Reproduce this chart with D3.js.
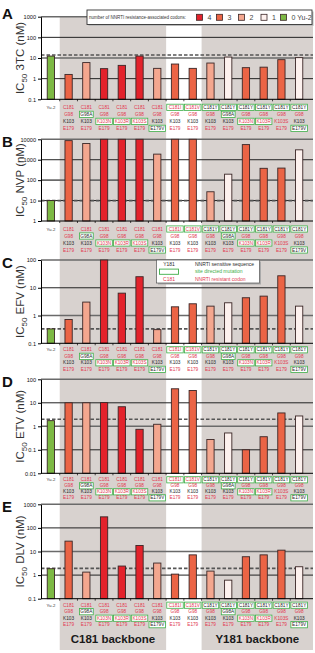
<!DOCTYPE html>
<html><head><meta charset="utf-8">
<script src="https://cdn.jsdelivr.net/npm/d3@7/dist/d3.min.js"></script>
<style>
body{margin:0;background:#fff;}
svg{display:block;font-family:"Liberation Sans",Arial,sans-serif;}
</style>
</head><body>
<svg id="chart" width="315" height="653"></svg>
<script>
// ---------------- DATA ----------------
const codon181 = ["Yu-2","C181","C181","C181","C181","C181","C181","C181I","C181V","C181Y","C181Y","C181Y","C181Y","C181Y","C181Y"];
const codon98  = ["","G98","G98A","G98","G98","G98","G98","G98","G98","G98","G98A","G98","G98","G98","G98"];
const codon103 = ["","K103","K103","K103N","K103R","K103S","K103","K103","K103","K103","K103","K103N","K103R","K103S","K103"];
const codon179 = ["","E179","E179","E179","E179","E179","E179V","E179","E179","E179","E179","E179","E179","E179","E179V"];
const siteDirected181 = [0,0,0,0,0,0,0,1,1,1,1,1,1,1,1];
const siteDirected98  = [0,0,1,0,0,0,0,0,0,0,1,0,0,0,0];
const siteDirected103 = [0,0,0,1,1,1,0,0,0,0,0,1,1,0,0];
const siteDirected179 = [0,0,0,0,0,0,1,0,0,0,0,0,0,0,1];
const resistantCodons = ["C181","C181I","C181V","G98","K103N","K103R","K103S","E179"];
const resistanceCount = [0,3,2,4,4,4,2,3,3,2,1,3,3,3,1];
const legendCounts = [4,3,2,1,0];
const legendCountLabels = ["4","3","2","1","0 Yu-2"];
const legendTitle = "number of NNRTI resistance-associated codons:";

const drugs = ["3TC","NVP","EFV","ETV","DLV"];
const panelLetters = ["A","B","C","D","E"];
const ic50_3TC = [12.4,1.6,6.0,3.05,4.4,12.4,3.15,5.1,3.15,5.7,11.1,3.4,3.6,8.3,10.4];
const ic50_NVP = [10,8600,6200,10000,10000,10000,1880,10000,10000,27,196,5500,380,390,3050];
const ic50_EFV = [0.33,0.72,3.05,100,6.4,25,0.31,2.06,2.65,2.18,2.88,4.37,5.0,27,2.18];
const ic50_ETV = [1.74,10,10,10.2,6.8,0.745,1.22,39.5,33.5,0.275,0.52,0.1,0.36,3.7,2.75];
const ic50_DLV = [1.86,27.5,1.34,294,2.42,18,3.24,1.1,7.2,1.48,0.61,6.0,7.2,11.4,2.26];
const yu2Reference = [14,10,0.33,2.0,1.92];
const tickLabels3TC = ["0.1","1","10","100","1000"];
const tickLabelsNVP = ["1","10","100","1000","10000"];
const tickLabelsEFV = ["0.1","1","10","100"];
const tickLabelsETV = ["0.01","0.1","1","10","100"];
const tickLabelsDLV = ["0.1","1","10","100","1000"];
const backboneLabels = ["C181 backbone","Y181 backbone"];
const keyCodons = ["Y181","","C181"];
const keyTexts = ["NNRTI sensitive sequence","site directed mutation","NNRTI resistant codon"];

// ---------------- STYLE / LAYOUT ----------------
const countColors = {4:"#e3222b",3:"#eb6445",2:"#f4a78f",1:"#fdf1ee",0:"#7db944"};
const resColor = "#e2394f", sensColor = "#2a2a2a", boxColor = "#3fae49", greyBg = "#d8d2cf";
const plotL = 41, plotR = 313;
const panelTop = [16.7,139.3,260,379.3,504.3];
const panelBottom = [99.3,221,343.3,473.3,598.7];
const labelFirst = [8,8,6.5,6.5,6.5];
const labelStep = [7,7,6.5,6,6.5];

const panelValues = [ic50_3TC, ic50_NVP, ic50_EFV, ic50_ETV, ic50_DLV];
const panelTicks = [tickLabels3TC, tickLabelsNVP, tickLabelsEFV, tickLabelsETV, tickLabelsDLV];

const svg = d3.select("#chart");
const idx = d3.range(codon181.length);
const xb = d3.scaleBand().domain(idx).range([42,308]).padding(0);
const x = d3.scaleBand().domain(idx).range([42,308]).paddingInner(0.59).paddingOuter(0.295);

// grey backbone regions
const regions = [[xb(1), xb(7)], [xb(9), plotR]];
svg.append("g").selectAll("rect").data(regions).join("rect")
  .attr("x", d => d[0]).attr("width", d => d[1]-d[0])
  .attr("y", panelTop[0]).attr("height", 650 - panelTop[0])
  .attr("fill", greyBg);

const rows = [codon181, codon98, codon103, codon179];
const boxes = [siteDirected181, siteDirected98, siteDirected103, siteDirected179];

panelValues.forEach((vals, p) => {
  const ticks = panelTicks[p].map(Number);
  const y = d3.scaleLog().domain([ticks[0], ticks[ticks.length-1]]).range([panelBottom[p], panelTop[p]]);
  const g = svg.append("g");
  // grid
  g.selectAll("line.grid").data(ticks.slice(1)).join("line")
    .attr("x1", plotL).attr("x2", plotR)
    .attr("y1", d => y(d)).attr("y2", d => y(d))
    .attr("stroke", (d,i) => i % 2 === (ticks.length-2) % 2 ? "#6a6a6a" : "#222")
    .attr("stroke-width", (d,i) => i % 2 === (ticks.length-2) % 2 ? 1.6 : 1);
  // dashed reference
  g.append("line").attr("x1", plotL).attr("x2", plotR)
    .attr("y1", y(yu2Reference[p])).attr("y2", y(yu2Reference[p]))
    .attr("stroke", "#555").attr("stroke-width", 1.6).attr("stroke-dasharray", "3.5,2");
  // bars
  g.selectAll("rect.bar").data(vals).join("rect")
    .attr("x", (d,i) => x(i)).attr("width", x.bandwidth())
    .attr("y", d => y(d)).attr("height", d => panelBottom[p] - y(d))
    .attr("fill", (d,i) => countColors[resistanceCount[i]])
    .attr("stroke", "#3a2626").attr("stroke-width", 0.9);
  // y axis
  const ax = g.append("g").attr("transform", `translate(${plotL},0)`)
    .call(d3.axisLeft(y).tickValues(ticks).tickFormat((d,i) => panelTicks[p][i]).tickSize(3).tickSizeOuter(0).tickPadding(2));
  ax.selectAll("text").attr("font-size", 5.6).attr("fill", "#111").attr("font-family", "Liberation Sans, Arial");
  ax.select(".domain").attr("stroke", "#000").attr("stroke-width", 1);
  ax.selectAll(".tick line").attr("stroke", "#000");
  // bottom axis
  g.append("line").attr("x1", plotL).attr("x2", plotR).attr("y1", panelBottom[p]).attr("y2", panelBottom[p])
    .attr("stroke", "#000").attr("stroke-width", 1);
  g.selectAll("line.bt").data(idx.slice(1)).join("line")
    .attr("x1", d => xb(d)).attr("x2", d => xb(d))
    .attr("y1", panelBottom[p]).attr("y2", panelBottom[p] + 2)
    .attr("stroke", "#000").attr("stroke-width", 0.7);
  // y title
  const t = g.append("text")
    .attr("transform", `translate(23.5,${(panelTop[p]+panelBottom[p])/2}) rotate(-90)`)
    .attr("text-anchor", "middle").attr("font-size", 11.5).attr("fill", "#333");
  t.append("tspan").text("IC");
  t.append("tspan").text("50").attr("font-size", 8).attr("dy", 3);
  t.append("tspan").text(" " + drugs[p] + " (nM)").attr("dy", -3);
  // panel letter
  svg.append("text").attr("x", 2).attr("y", panelTop[p] - (p===0 ? -2.5 : -7.5))
    .attr("font-size", 15).attr("font-weight", "bold").attr("fill", "#111").text(panelLetters[p]);
  // mutation labels
  rows.forEach((row, r) => {
    const cy = panelBottom[p] + labelFirst[p] + r * labelStep[p];
    idx.forEach(i => {
      const txt = row[i];
      if (!txt) return;
      const cx = x(i) + x.bandwidth()/2;
      if (boxes[r][i]) {
        const w = txt.length * 2.7 + 3;
        g.append("rect").attr("x", cx - w/2).attr("y", cy - 3.1).attr("width", w).attr("height", 6.2)
          .attr("fill", "#fff").attr("stroke", boxColor).attr("stroke-width", 0.8);
      }
      const col = i === 0 ? "#333" : (resistantCodons.includes(txt) ? resColor : sensColor);
      g.append("text").attr("x", cx).attr("y", cy).attr("dy", "0.35em")
        .attr("text-anchor", "middle").attr("font-size", i===0 ? 4.3 : 4.7).attr("fill", col).text(txt);
    });
  });
});

// legend A (resistance count)
const lg = svg.append("g");
lg.append("rect").attr("x", 88.5).attr("y", 11.5).attr("width", 225).attr("height", 14.5).attr("fill", "#bbb");
lg.append("rect").attr("x", 87).attr("y", 10).attr("width", 225).attr("height", 14.5)
  .attr("fill", "#fff").attr("stroke", "#333").attr("stroke-width", 0.9);
lg.append("text").attr("x", 89).attr("y", 17.3).attr("dy", "0.35em").attr("font-size", 4.5).attr("fill", "#333").text(legendTitle);
const swX = [196.5, 216.5, 238.5, 261, 280.5];
legendCounts.forEach((c, i) => {
  lg.append("rect").attr("x", swX[i]).attr("y", 14.3).attr("width", 6).attr("height", 6)
    .attr("fill", countColors[c]).attr("stroke", "#3a2626").attr("stroke-width", 0.8);
  lg.append("text").attr("x", swX[i] + 11).attr("y", 17.3).attr("dy", "0.35em")
    .attr("font-size", 7).attr("fill", "#444").text(legendCountLabels[i]);
});

// legend C (sequence key)
const kg = svg.append("g");
kg.append("rect").attr("x", 158).attr("y", 261.5).attr("width", 103).attr("height", 23).attr("fill", "#aaa");
kg.append("rect").attr("x", 156.5).attr("y", 260).attr("width", 103).attr("height", 23)
  .attr("fill", "#fff").attr("stroke", "#555").attr("stroke-width", 0.7);
const keyColors = [sensColor, boxColor, resColor];
keyTexts.forEach((t, i) => {
  const cy = 264.5 + i * 7.2;
  if (i === 1) {
    kg.append("rect").attr("x", 159.5).attr("y", cy - 2.6).attr("width", 19).attr("height", 5.2)
      .attr("fill", "#fff").attr("stroke", boxColor).attr("stroke-width", 0.9);
  } else {
    kg.append("text").attr("x", 169).attr("y", cy).attr("dy", "0.35em").attr("text-anchor", "middle")
      .attr("font-size", 5).attr("fill", keyColors[i]).text(keyCodons[i]);
  }
  kg.append("text").attr("x", 195).attr("y", cy).attr("dy", "0.35em")
    .attr("font-size", 5).attr("fill", keyColors[i]).text(t);
});

// backbone labels
const bx = [(regions[0][0]+regions[0][1])/2, (regions[1][0]+regions[1][1])/2];
svg.append("g").selectAll("text").data(backboneLabels).join("text")
  .attr("x", (d,i) => bx[i]).attr("y", 643).attr("text-anchor", "middle")
  .attr("font-size", 11.5).attr("font-weight", "bold").attr("fill", "#1a1a1a").text(d => d);
</script>
</body></html>
